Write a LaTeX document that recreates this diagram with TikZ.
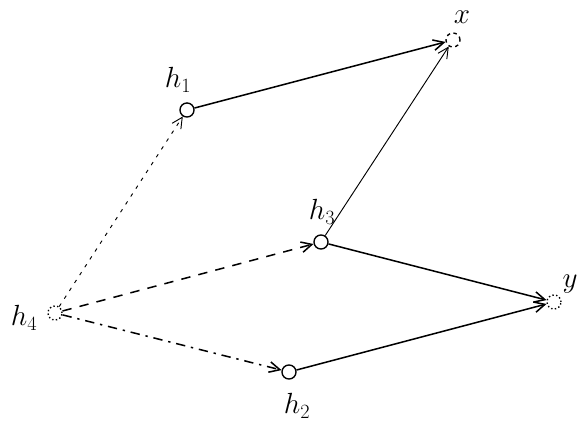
\documentclass[tikz,border=0pt]{standalone}
\usetikzlibrary{arrows.meta}
\begin{document}
\begin{tikzpicture}[x=0.03cm,y=-0.03cm,
    unit/.style={circle,draw,line width=1.2pt,minimum size=12pt,inner sep=0pt},
    hidden/.style={unit,dotted},
    lab/.style={font=\fontsize{24}{26}\selectfont},
    link/.style={-{Straight Barb[length=9pt,width=9pt]},line width=1.3pt},
    thin link/.style={-{Straight Barb[length=9pt,width=9pt]},line width=0.8pt}]
    \useasboundingbox (0,0) rectangle (579,430);
    \node[hidden] (h4) at (55,313) {};
    \node[unit] (h1) at (187,110) {};
    \node[unit] (h3) at (321,242) {};
    \node[unit] (h2) at (289,372) {};
    \node[unit,dashed] (x) at (453,40) {};
    \node[hidden] (y) at (554,302) {};
    \node[lab] (lh4) at (24,318) {$h_4$};
    \node[lab] (lh1) at (178,80) {$h_1$};
    \node[lab] (lh3) at (322,212) {$h_3$};
    \node[lab] (lh2) at (297,406) {$h_2$};
    \node[lab] (lx) at (462,17) {$x$};
    \node[lab] (ly) at (570,284) {$y$};
    \draw[thin link,dash pattern=on 3pt off 5pt] (h4) -- (h1);
    \draw[link,dash pattern=on 8pt off 7pt] (h4) -- (h3);
    \draw[link,dash pattern=on 8pt off 5pt on 2pt off 5pt] (h4) -- (h2);
    \draw[link] (h1) -- (x);
    \draw[thin link] (h3) -- (x);
    \draw[link] (h3) -- (y);
    \draw[link] (h2) -- (y);
\end{tikzpicture}
\end{document}
